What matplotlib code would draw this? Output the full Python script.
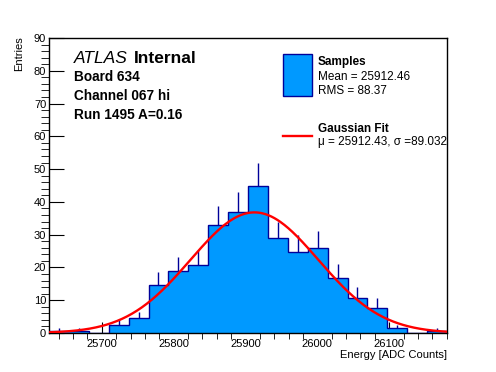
import numpy as np
import matplotlib.pyplot as plt
from matplotlib.patches import Rectangle
from matplotlib.lines import Line2D
from matplotlib.ticker import MultipleLocator

plt.rcParams['font.family'] = ['Liberation Sans', 'DejaVu Sans']

# histogram data (20 bins)
x_min, x_max = 25626.5, 26180.5
n_bins = 20
counts = [0.6, 0.6, 0.0, 2.4, 4.5, 14.5, 18.8, 20.6, 32.8, 36.9,
          44.8, 28.9, 24.7, 25.8, 16.8, 10.7, 7.5, 1.4, 0.0, 0.6]
errors = [0.8, 0.8, 0.0, 1.8, 1.8, 4.1, 4.4, 4.7, 5.9, 6.1,
          7.2, 5.1, 5.2, 5.4, 4.2, 3.4, 3.2, 1.0, 0.0, 1.0]

# gaussian fit parameters
fit_mu = 25912.43
fit_sigma = 89.032
fit_amp = 36.8

fill_col = '#0099ff'
edge_col = '#000099'

W, H = 496, 372
fig = plt.figure(figsize=(W / 100, H / 100), dpi=100)
ax = fig.add_axes([49 / W, 1 - 333 / H, (447 - 49) / W, (333 - 38) / H])

edges = np.linspace(x_min, x_max, n_bins + 1)
centers = 0.5 * (edges[:-1] + edges[1:])
counts = np.array(counts)
errors = np.array(errors)

# error bars (lower part is hidden by the fill)
ax.vlines(centers, counts - errors, counts + errors, color=edge_col, lw=1, zorder=1)
ax.stairs(counts, edges, fill=True, facecolor=fill_col, edgecolor='none', zorder=2)
ax.stairs(counts, edges, fill=False, baseline=0, color=edge_col, lw=1, zorder=3)

xs = np.linspace(x_min, x_max, 400)
ax.plot(xs, fit_amp * np.exp(-0.5 * ((xs - fit_mu) / fit_sigma) ** 2),
        color='#ff0000', lw=1.7, zorder=4)

ax.set_xlim(x_min, x_max)
ax.set_ylim(0, 90)
ax.xaxis.set_major_locator(MultipleLocator(100))
ax.xaxis.set_minor_locator(MultipleLocator(20))
ax.yaxis.set_major_locator(MultipleLocator(10))
ax.yaxis.set_minor_locator(MultipleLocator(2))
ax.tick_params(direction='in', labelsize=8, top=False, right=False)
ax.tick_params(axis='y', which='major', length=11, pad=2)
ax.tick_params(axis='y', which='minor', length=5.5)
ax.tick_params(axis='x', which='major', length=8, pad=4)
ax.tick_params(axis='x', which='minor', length=4)
for s in ax.spines.values():
    s.set_linewidth(1)

fig.text(447 / W, 1 - 355 / H, 'Energy [ADC Counts]', ha='right', va='center', fontsize=8)
fig.text(19 / W, 1 - 36 / H, 'Entries', ha='center', va='top', rotation=90, fontsize=8)

# ATLAS labels
fig.text(74 / W, 1 - 63 / H, 'ATLAS', style='italic', fontsize=12.5, va='baseline')
fig.text(134 / W, 1 - 63 / H, 'Internal', weight='bold', fontsize=12.5, va='baseline')
fig.text(74 / W, 1 - 81 / H, 'Board 634', weight='bold', fontsize=9.8, va='baseline')
fig.text(74 / W, 1 - 100 / H, 'Channel 067 hi', weight='bold', fontsize=9.8, va='baseline')
fig.text(74 / W, 1 - 119 / H, 'Run 1495 A=0.16', weight='bold', fontsize=9.8, va='baseline')

# legend
fig.add_artist(Rectangle((283 / W, 1 - 96 / H), 28.5 / W, 42.5 / H,
                         facecolor=fill_col, edgecolor=edge_col, lw=1,
                         transform=fig.transFigure))
fig.add_artist(Line2D([283 / W, 312 / W], [1 - 136 / H, 1 - 136 / H],
                      color='#ff0000', lw=1.7, transform=fig.transFigure))
fig.text(318 / W, 1 - 65 / H, 'Samples', weight='bold', fontsize=8.5, va='baseline')
fig.text(318 / W, 1 - 80.5 / H, 'Mean = 25912.46', fontsize=8.5, va='baseline')
fig.text(318 / W, 1 - 93.5 / H, 'RMS = 88.37', fontsize=8.5, va='baseline')
fig.text(318 / W, 1 - 132 / H, 'Gaussian Fit', weight='bold', fontsize=8.5, va='baseline')
fig.text(318 / W, 1 - 145 / H, 'μ = 25912.43, σ =89.032', fontsize=8.5, va='baseline')

plt.savefig('out.png', dpi=100)
